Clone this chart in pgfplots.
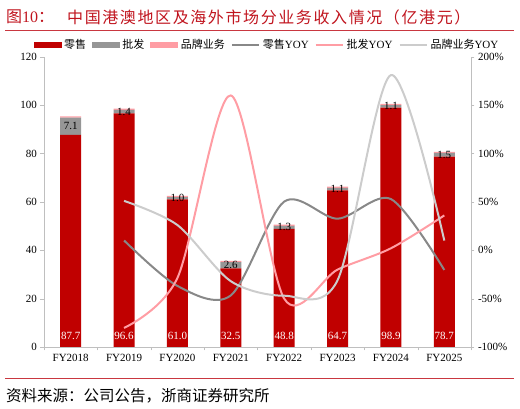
\documentclass[border=0pt]{standalone}
\usepackage{fontspec}
\setmainfont{Liberation Serif}
\newfontfamily\cjk{Noto Sans CJK SC}
\usepackage{pgfplots}
\pgfplotsset{compat=1.18}

\definecolor{retail}{HTML}{C00000}
\definecolor{wholesale}{HTML}{969696}
\definecolor{brand}{HTML}{FF9DA4}
\definecolor{yoyretail}{HTML}{888888}
\definecolor{yoywhole}{HTML}{FF9DA4}
\definecolor{yoybrand}{HTML}{CCCCCC}
\definecolor{axisgray}{HTML}{BFBFBF}
\definecolor{titlered}{HTML}{C0141E}

\pgfplotsset{
  frame/.style={
    at={(44pt,62pt)}, anchor=south west,
    scale only axis, width=427pt, height=290.3pt,
    xmin=-0.5, xmax=7.5,
    tick label style={font=\fontsize{11}{12}\selectfont},
    /pgf/number format/assume math mode=true,
    tick align=outside,
    axis line style={axisgray}, tick style={axisgray},
    major tick length=3.5pt,
  },
}

\begin{document}
\begin{tikzpicture}
\path[use as bounding box] (0,0) rectangle (520pt,409pt);
% title and source
\node[anchor=west, text=titlered, font=\fontsize{16}{16}\selectfont, inner sep=0pt] at (6pt,392pt) {{\cjk 图}10{\cjk ：}};
\node[anchor=west, text=titlered, font=\fontsize{16}{16}\selectfont\cjk\addfontfeatures{LetterSpace=10}, inner sep=0pt] at (67pt,392pt) {中国港澳地区及海外市场分业务收入情况（亿港元）};
\draw[titlered!85, line width=0.9pt] (5pt,379pt) -- (514pt,379pt);
\draw[titlered!85, line width=0.9pt] (5pt,31pt) -- (514pt,31pt);
\node[anchor=west, font=\fontsize{15.5}{16}\selectfont\cjk, inner sep=0pt] at (6pt,13pt) {资料来源：公司公告，浙商证券研究所};

% bars (left axis)
\begin{axis}[frame, ybar stacked, bar width=21pt,
  ymin=0, ymax=120, ytick={0,20,...,120},
  axis y line*=left, axis x line*=bottom,
  xtick={-0.5,0.5,...,7.5},
  xticklabels={FY2018,FY2019,FY2020,FY2021,FY2022,FY2023,FY2024,FY2025,},
  x tick label style={xshift=26.7pt},
]
\addplot[fill=retail, draw=none] coordinates {(0,87.7) (1,96.6) (2,61.0) (3,32.5) (4,48.8) (5,64.7) (6,98.9) (7,78.7)};
\addplot[fill=wholesale, draw=none] coordinates {(0,7.1) (1,1.4) (2,1.0) (3,2.6) (4,1.3) (5,1.1) (6,1.1) (7,1.5)};
\addplot[fill=brand, draw=none] coordinates {(0,0.5) (1,0.5) (2,0.5) (3,0.5) (4,0.5) (5,0.5) (6,0.5) (7,0.5)};
\end{axis}

% bar labels
\begin{axis}[frame, hide axis, ymin=0, ymax=120,
  nodes near coords, point meta=explicit symbolic,
  nodes near coords style={anchor=center, font=\fontsize{11}{12}\selectfont, inner sep=0pt},
]
\addplot[only marks, mark=*, mark size=0pt, mark options={draw=none, fill=none},
  nodes near coords style={text=white}] coordinates {
  (0,4.5) [87.7] (1,4.5) [96.6] (2,4.5) [61.0] (3,4.5) [32.5]
  (4,4.5) [48.8] (5,4.5) [64.7] (6,4.5) [98.9] (7,4.5) [78.7]};
\addplot[only marks, mark=*, mark size=0pt, mark options={draw=none, fill=none},
  nodes near coords style={text=black}] coordinates {
  (0,91.25) [7.1] (1,97.3) [1.4] (2,61.5) [1.0] (3,33.8) [2.6]
  (4,49.45) [1.3] (5,65.25) [1.1] (6,99.45) [1.1] (7,79.45) [1.5]};
\end{axis}

% growth lines (right axis)
\begin{axis}[frame, ymin=-100, ymax=200, ytick={-100,-50,...,200},
  yticklabels={-100\%,-50\%,0\%,50\%,100\%,150\%,200\%},
  axis y line*=right, axis x line=none,
  legend columns=6,
  legend style={at={(0.52,1.04)}, anchor=center, draw=none, fill=none,
    font=\fontsize{11}{12}\selectfont, inner sep=0pt,
    nodes={inner sep=0pt},
    /tikz/every odd column/.append style={column sep=3pt},
    /tikz/every even column/.append style={column sep=6pt}},
  legend image code/.code={\draw[#1] (0pt,0pt) -- (27pt,0pt);},
]
\addlegendimage{legend image code/.code={\fill[retail] (0pt,-2.5pt) rectangle (27pt,2.5pt);}}
\addlegendentry{{\cjk 零售}}
\addlegendimage{legend image code/.code={\fill[wholesale] (0pt,-2.5pt) rectangle (27pt,2.5pt);}}
\addlegendentry{{\cjk 批发}}
\addlegendimage{legend image code/.code={\fill[brand] (0pt,-2.5pt) rectangle (27pt,2.5pt);}}
\addlegendentry{{\cjk 品牌业务}}
\addplot[yoyretail, line width=2pt, smooth] coordinates {
  (1,10.1) (2,-36.9) (3,-46.7) (4,50.2) (5,32.6) (6,52.9) (7,-20.4)};
\addlegendentry{{\cjk 零售}YOY}
\addplot[yoywhole, line width=2pt, smooth] coordinates {
  (1,-80.3) (2,-28.6) (3,160.0) (4,-50.0) (5,-20.0) (6,2.0) (7,36.0)};
\addlegendentry{{\cjk 批发}YOY}
\addplot[yoybrand, line width=2pt, smooth] coordinates {
  (1,51.0) (2,26.0) (3,-32.0) (4,-47.0) (5,-31.0) (6,181.0) (7,10.0)};
\addlegendentry{{\cjk 品牌业务}YOY}
\end{axis}
\end{tikzpicture}
\end{document}
